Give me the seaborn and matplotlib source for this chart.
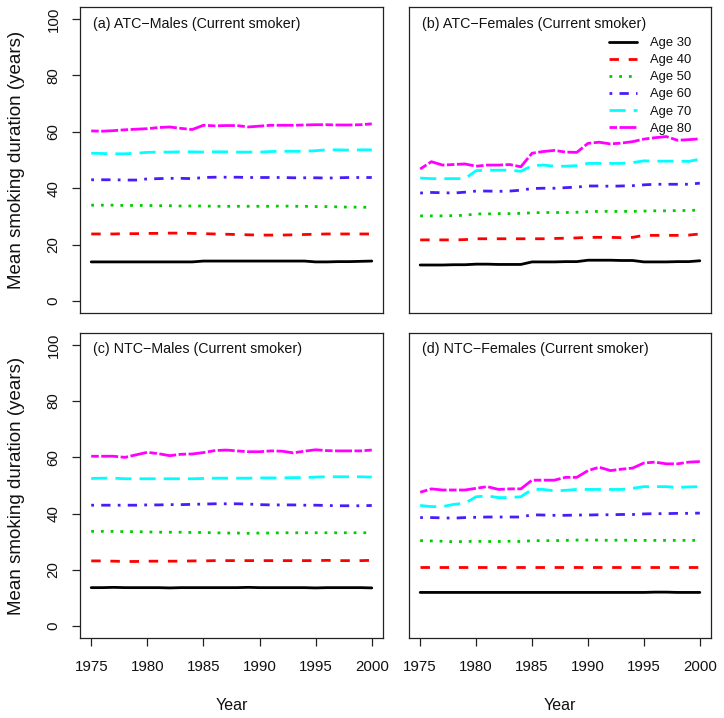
import numpy as np
import pandas as pd
import matplotlib
matplotlib.use("Agg")
import matplotlib.pyplot as plt
import seaborn as sns

# ---------------- data ----------------
years = list(range(1975, 2001))
ages = ["Age 30", "Age 40", "Age 50", "Age 60", "Age 70", "Age 80"]
titles = ["(a) ATC\u2212Males (Current smoker)",
          "(b) ATC\u2212Females (Current smoker)",
          "(c) NTC\u2212Males (Current smoker)",
          "(d) NTC\u2212Females (Current smoker)"]
x_ticks = [1975, 1980, 1985, 1990, 1995, 2000]
y_ticks = [0, 20, 40, 60, 80, 100]

# (a) ATC - Males
atcm_30 = [13.9, 13.9, 13.9, 13.9, 13.9, 13.9, 13.9, 13.9, 13.9, 13.9, 14.2, 14.2, 14.2,
           14.2, 14.2, 14.2, 14.2, 14.2, 14.2, 14.2, 13.9, 13.9, 14.0, 14.0, 14.1, 14.2]
atcm_40 = [23.8, 23.8, 23.8, 23.9, 23.9, 24.0, 24.0, 24.1, 24.1, 24.0, 23.9, 23.8, 23.7,
           23.6, 23.5, 23.4, 23.4, 23.4, 23.5, 23.6, 23.7, 23.8, 23.8, 23.8, 23.8, 23.8]
atcm_50 = [34.0, 34.0, 34.0, 33.9, 33.9, 33.9, 33.8, 33.8, 33.7, 33.7, 33.7, 33.6, 33.6,
           33.6, 33.6, 33.6, 33.6, 33.7, 33.6, 33.6, 33.5, 33.5, 33.4, 33.3, 33.3, 33.2]
atcm_60 = [43.0, 43.0, 43.0, 42.9, 42.9, 43.3, 43.4, 43.5, 43.5, 43.4, 43.8, 43.9, 43.9,
           43.9, 43.8, 43.8, 43.8, 43.8, 43.7, 43.7, 43.7, 43.6, 43.7, 43.8, 43.8, 43.8]
atcm_70 = [52.4, 52.3, 52.2, 52.2, 52.4, 52.7, 52.8, 52.8, 52.9, 52.9, 52.8, 52.9, 52.9,
           52.8, 52.8, 52.8, 53.0, 53.1, 53.1, 53.1, 53.3, 53.6, 53.6, 53.5, 53.6, 53.6]
atcm_80 = [60.3, 60.2, 60.4, 60.7, 60.9, 61.1, 61.5, 61.7, 61.2, 60.8, 62.3, 62.1, 62.2,
           62.2, 61.7, 62.0, 62.3, 62.3, 62.3, 62.4, 62.5, 62.5, 62.4, 62.4, 62.5, 62.8]

# (b) ATC - Females
atcf_30 = [12.8, 12.8, 12.8, 12.9, 12.9, 13.1, 13.1, 13.0, 13.0, 13.0, 13.9, 13.9, 13.9,
           14.0, 14.0, 14.5, 14.5, 14.5, 14.4, 14.4, 13.9, 13.9, 13.9, 14.0, 14.0, 14.3]
atcf_40 = [21.7, 21.7, 21.7, 21.7, 21.8, 22.1, 22.1, 22.1, 22.1, 22.1, 22.1, 22.1, 22.2,
           22.3, 22.4, 22.6, 22.6, 22.6, 22.5, 22.6, 23.3, 23.3, 23.3, 23.3, 23.4, 23.8]
atcf_50 = [30.2, 30.2, 30.2, 30.3, 30.4, 30.9, 30.9, 31.0, 31.0, 31.1, 31.3, 31.4, 31.4,
           31.4, 31.5, 31.7, 31.8, 31.8, 31.8, 31.8, 31.9, 32.0, 32.0, 32.1, 32.1, 32.3]
atcf_60 = [38.3, 38.5, 38.4, 38.3, 38.6, 39.0, 39.0, 38.9, 39.0, 39.3, 39.9, 40.0, 40.0,
           40.2, 40.4, 40.8, 40.8, 40.7, 40.8, 40.9, 41.2, 41.4, 41.4, 41.4, 41.4, 41.8]
atcf_70 = [43.6, 43.4, 43.4, 43.4, 43.4, 46.2, 46.4, 46.4, 46.4, 46.0, 48.0, 48.2, 47.8,
           47.8, 48.0, 48.8, 48.8, 48.8, 48.8, 49.1, 49.7, 49.6, 49.6, 49.6, 49.5, 50.3]
atcf_80 = [46.8, 49.4, 48.2, 48.4, 48.6, 47.8, 48.2, 48.2, 48.4, 47.6, 52.4, 53.0, 53.4,
           52.8, 52.7, 55.9, 56.3, 55.7, 56.0, 56.5, 57.4, 57.9, 58.3, 57.0, 57.2, 57.5]

# (c) NTC - Males
ntcm_30 = [13.7, 13.7, 13.8, 13.7, 13.7, 13.7, 13.7, 13.6, 13.7, 13.7, 13.7, 13.7, 13.7,
           13.7, 13.8, 13.7, 13.7, 13.7, 13.7, 13.7, 13.6, 13.7, 13.7, 13.7, 13.7, 13.6]
ntcm_40 = [23.2, 23.2, 23.1, 23.0, 23.0, 23.1, 23.1, 23.1, 23.1, 23.2, 23.2, 23.3, 23.3,
           23.3, 23.3, 23.3, 23.3, 23.3, 23.3, 23.3, 23.3, 23.4, 23.3, 23.3, 23.3, 23.4]
ntcm_50 = [33.7, 33.7, 33.7, 33.6, 33.6, 33.5, 33.4, 33.4, 33.4, 33.3, 33.3, 33.2, 33.1,
           33.1, 33.0, 33.1, 33.1, 33.2, 33.2, 33.2, 33.2, 33.2, 33.2, 33.2, 33.2, 33.2]
ntcm_60 = [43.0, 43.0, 43.0, 43.0, 43.0, 43.1, 43.1, 43.2, 43.2, 43.3, 43.4, 43.5, 43.5,
           43.5, 43.4, 43.2, 43.1, 43.1, 43.1, 43.0, 43.0, 42.9, 42.8, 42.8, 42.8, 42.9]
ntcm_70 = [52.5, 52.6, 52.6, 52.4, 52.4, 52.4, 52.4, 52.4, 52.4, 52.4, 52.5, 52.6, 52.6,
           52.6, 52.6, 52.7, 52.7, 52.7, 52.8, 52.8, 53.0, 53.1, 53.1, 53.1, 53.1, 53.0]
ntcm_80 = [60.4, 60.4, 60.4, 60.0, 60.9, 61.8, 61.3, 60.6, 61.1, 61.2, 61.7, 62.4, 62.6,
           62.3, 62.0, 62.0, 62.3, 62.2, 61.6, 62.2, 62.7, 62.4, 62.3, 62.3, 62.3, 62.6]

# (d) NTC - Females
ntcf_30 = [12.0, 12.0, 12.0, 12.0, 12.0, 12.0, 12.0, 12.0, 12.0, 12.0, 12.0, 12.0, 12.0,
           12.0, 12.0, 12.0, 12.0, 12.0, 12.0, 12.0, 12.0, 12.1, 12.1, 12.0, 12.0, 12.0]
ntcf_40 = [21.0, 21.0, 21.0, 21.0, 21.0, 21.0, 21.0, 21.0, 21.0, 21.0, 21.0, 21.0, 21.0,
           21.0, 21.0, 21.0, 21.0, 21.0, 21.0, 21.0, 21.0, 21.0, 21.0, 21.0, 21.0, 21.0]
ntcf_50 = [30.4, 30.3, 30.2, 30.0, 30.1, 30.2, 30.1, 30.1, 30.2, 30.1, 30.4, 30.4, 30.4,
           30.5, 30.6, 30.6, 30.6, 30.5, 30.6, 30.5, 30.5, 30.5, 30.5, 30.5, 30.5, 30.5]
ntcf_60 = [38.6, 38.6, 38.5, 38.4, 38.6, 38.7, 38.8, 38.8, 38.8, 38.8, 39.6, 39.5, 39.4,
           39.4, 39.5, 39.5, 39.6, 39.6, 39.7, 39.7, 39.9, 40.0, 40.0, 40.1, 40.1, 40.2]
ntcf_70 = [42.9, 42.5, 42.5, 43.3, 43.7, 46.0, 46.3, 45.7, 45.7, 46.0, 48.6, 48.6, 48.1,
           48.3, 48.6, 48.6, 48.6, 48.6, 48.6, 49.0, 49.6, 49.6, 49.6, 49.3, 49.5, 49.6]
ntcf_80 = [47.6, 48.8, 48.4, 48.4, 48.4, 49.0, 49.6, 48.6, 48.8, 48.8, 51.9, 51.9, 51.9,
           52.9, 52.9, 55.3, 56.5, 55.3, 55.8, 56.2, 58.0, 58.3, 57.7, 57.7, 58.3, 58.5]

panels = [
    [atcm_30, atcm_40, atcm_50, atcm_60, atcm_70, atcm_80],
    [atcf_30, atcf_40, atcf_50, atcf_60, atcf_70, atcf_80],
    [ntcm_30, ntcm_40, ntcm_50, ntcm_60, ntcm_70, ntcm_80],
    [ntcf_30, ntcf_40, ntcf_50, ntcf_60, ntcf_70, ntcf_80],
]

# ---------------- style ----------------
sns.set_style("white")
plt.rcParams["font.family"] = ["Liberation Sans", "DejaVu Sans"]

colors = {"Age 30": "#000000", "Age 40": "#FF0000", "Age 50": "#00CD00",
          "Age 60": "#4A1CFA", "Age 70": "#00FFFF", "Age 80": "#FF00FF"}
dashes = {"Age 30": "", "Age 40": (3.4, 3.5), "Age 50": (1.0, 2.5),
          "Age 60": (1.0, 2.6, 3.35, 2.6), "Age 70": (5.8, 2.9),
          "Age 80": (2.7, 0.9, 6.1, 0.9)}

W, H = 724, 718
fig = plt.figure(figsize=(W / 100, H / 100), dpi=100)

# pixel boxes: (left, top, right, bottom)
boxes = [(80, 7, 383, 313), (409, 7, 711, 313),
         (80, 333, 383, 638), (409, 333, 711, 638)]

axes = []
for i, (l, t, r, b) in enumerate(boxes):
    ax = fig.add_axes([l / W, 1 - b / H, (r - l) / W, (b - t) / H])
    axes.append(ax)
    rows = []
    for age, vals in zip(ages, panels[i]):
        for yr, v in zip(years, vals):
            rows.append({"Year": yr, "Age": age, "Duration": v})
    df = pd.DataFrame(rows)
    sns.lineplot(data=df, x="Year", y="Duration", hue="Age", style="Age",
                 hue_order=ages, style_order=ages, palette=colors, dashes=dashes,
                 linewidth=2.0, estimator=None, sort=False, legend=False, ax=ax)
    ax.set_xlim(1974, 2001)
    ax.set_ylim(-4.2, 104.2)
    ax.set_xlabel("")
    ax.set_ylabel("")
    for sp in ax.spines.values():
        sp.set_visible(True)
        sp.set_color("#222222")
        sp.set_linewidth(0.9)
    ax.text(0.043, 0.946, titles[i], transform=ax.transAxes, ha="left",
            va="center", fontsize=10.3, color="#111111")

    # ticks: only on outer edges
    if i >= 2:
        ax.set_xticks(x_ticks)
        ax.set_xticklabels([str(v) for v in x_ticks], fontsize=10.8, color="#111111")
        ax.tick_params(axis="x", bottom=True, length=6, width=0.9, pad=10,
                       color="#222222", direction="out")
        ax.set_xlabel("Year", fontsize=11.5, color="#111111")
        ax.xaxis.set_label_coords(0.5, -0.197)
    else:
        ax.set_xticks([])
    if i % 2 == 0:
        ax.set_yticks(y_ticks)
        ax.set_yticklabels([str(v) for v in y_ticks], fontsize=10.8,
                           rotation=90, va="center", color="#111111")
        ax.tick_params(axis="y", left=True, length=6, width=0.9, pad=8,
                       color="#222222", direction="out")
        ax.set_ylabel("Mean smoking duration (years)", fontsize=13.5, color="#111111")
        ax.yaxis.set_label_coords(-0.18, 0.5)
    else:
        ax.set_yticks([])

# legend in panel (b)
axb = axes[1]
handles = axb.get_lines()[:len(ages)]
leg = axb.legend(handles, ages, loc="upper right", bbox_to_anchor=(0.934, 0.902),
                 frameon=False, fontsize=9.4, handlelength=2.2, handletextpad=0.95,
                 labelspacing=0.38, borderpad=0, borderaxespad=0)
for t in leg.get_texts():
    t.set_color("#111111")

fig.savefig("out.png", dpi=100)
